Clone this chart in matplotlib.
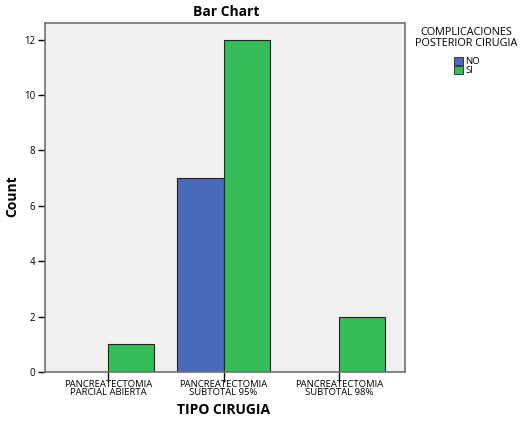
import numpy as np
import matplotlib
matplotlib.use("Agg")
import matplotlib.pyplot as plt
from matplotlib.patches import Patch

# conteo de pacientes por tipo de cirugia y complicaciones
tipos = ["PANCREATECTOMIA\nPARCIAL ABIERTA", "PANCREATECTOMIA\nSUBTOTAL 95%", "PANCREATECTOMIA\nSUBTOTAL 98%"]
no_counts = [0, 7, 0]
si_counts = [1, 12, 2]
yticks = [0, 2, 4, 6, 8, 10, 12]

azul = "#4a69bb"
verde = "#33bc57"

plt.rcParams['font.family'] = ['Open Sans', 'DejaVu Sans']

W, H = 522, 423
fig = plt.figure(figsize=(W / 100, H / 100), dpi=100)
ax = fig.add_axes([45 / W, 1 - 372 / H, 360 / W, 349 / H])
ax.set_facecolor("#f0f0f0")

x = np.arange(len(tipos))
w = 0.4
for xi, n in zip(x, no_counts):
    if n > 0:
        ax.bar(xi - w / 2, n, w, color=azul, edgecolor="#222222", linewidth=0.8)
for xi, n in zip(x, si_counts):
    if n > 0:
        ax.bar(xi + w / 2, n, w, color=verde, edgecolor="#222222", linewidth=0.8)

ax.set_xlim(-0.545, 2.57)
ax.set_ylim(0, 12.6)
ax.set_yticks(yticks)
ax.set_yticklabels([str(t) for t in yticks], fontsize=7)
ax.set_xticks(x)
ax.set_xticklabels(tipos, fontsize=6.8, linespacing=0.85)
ax.tick_params(axis="y", direction="out", length=5, width=1, pad=2)
ax.tick_params(axis="x", direction="out", length=7, width=1, pad=-1)
for s in ax.spines.values():
    s.set_color("#707070")
    s.set_linewidth(1.2)

fig.text(226 / W, 1 - 12 / H, "Bar Chart", ha="center", va="center", fontsize=10, fontweight="bold")
fig.text(12 / W, 1 - 196 / H, "Count", ha="center", va="center", rotation=90,
         fontsize=10, fontweight="bold")
fig.text(224 / W, 1 - 410 / H, "TIPO CIRUGIA", ha="center", va="center",
         fontsize=10, fontweight="bold")

fig.text(466 / W, 1 - 38 / H, "COMPLICACIONES\nPOSTERIOR CIRUGIA", ha="center", va="center",
         fontsize=7.8, linespacing=1.0)
handles = [Patch(facecolor=azul, edgecolor="#222222", linewidth=0.6, label="NO"),
           Patch(facecolor=verde, edgecolor="#222222", linewidth=0.6, label="SI")]
fig.legend(handles=handles, loc="upper left", bbox_to_anchor=(454 / W, 1 - 57 / H), frameon=False,
           fontsize=6.8, handlelength=1.0, handleheight=0.9, handletextpad=0.2,
           labelspacing=0.0, borderpad=0, borderaxespad=0)

fig.savefig("out.png", dpi=100, facecolor="white")
